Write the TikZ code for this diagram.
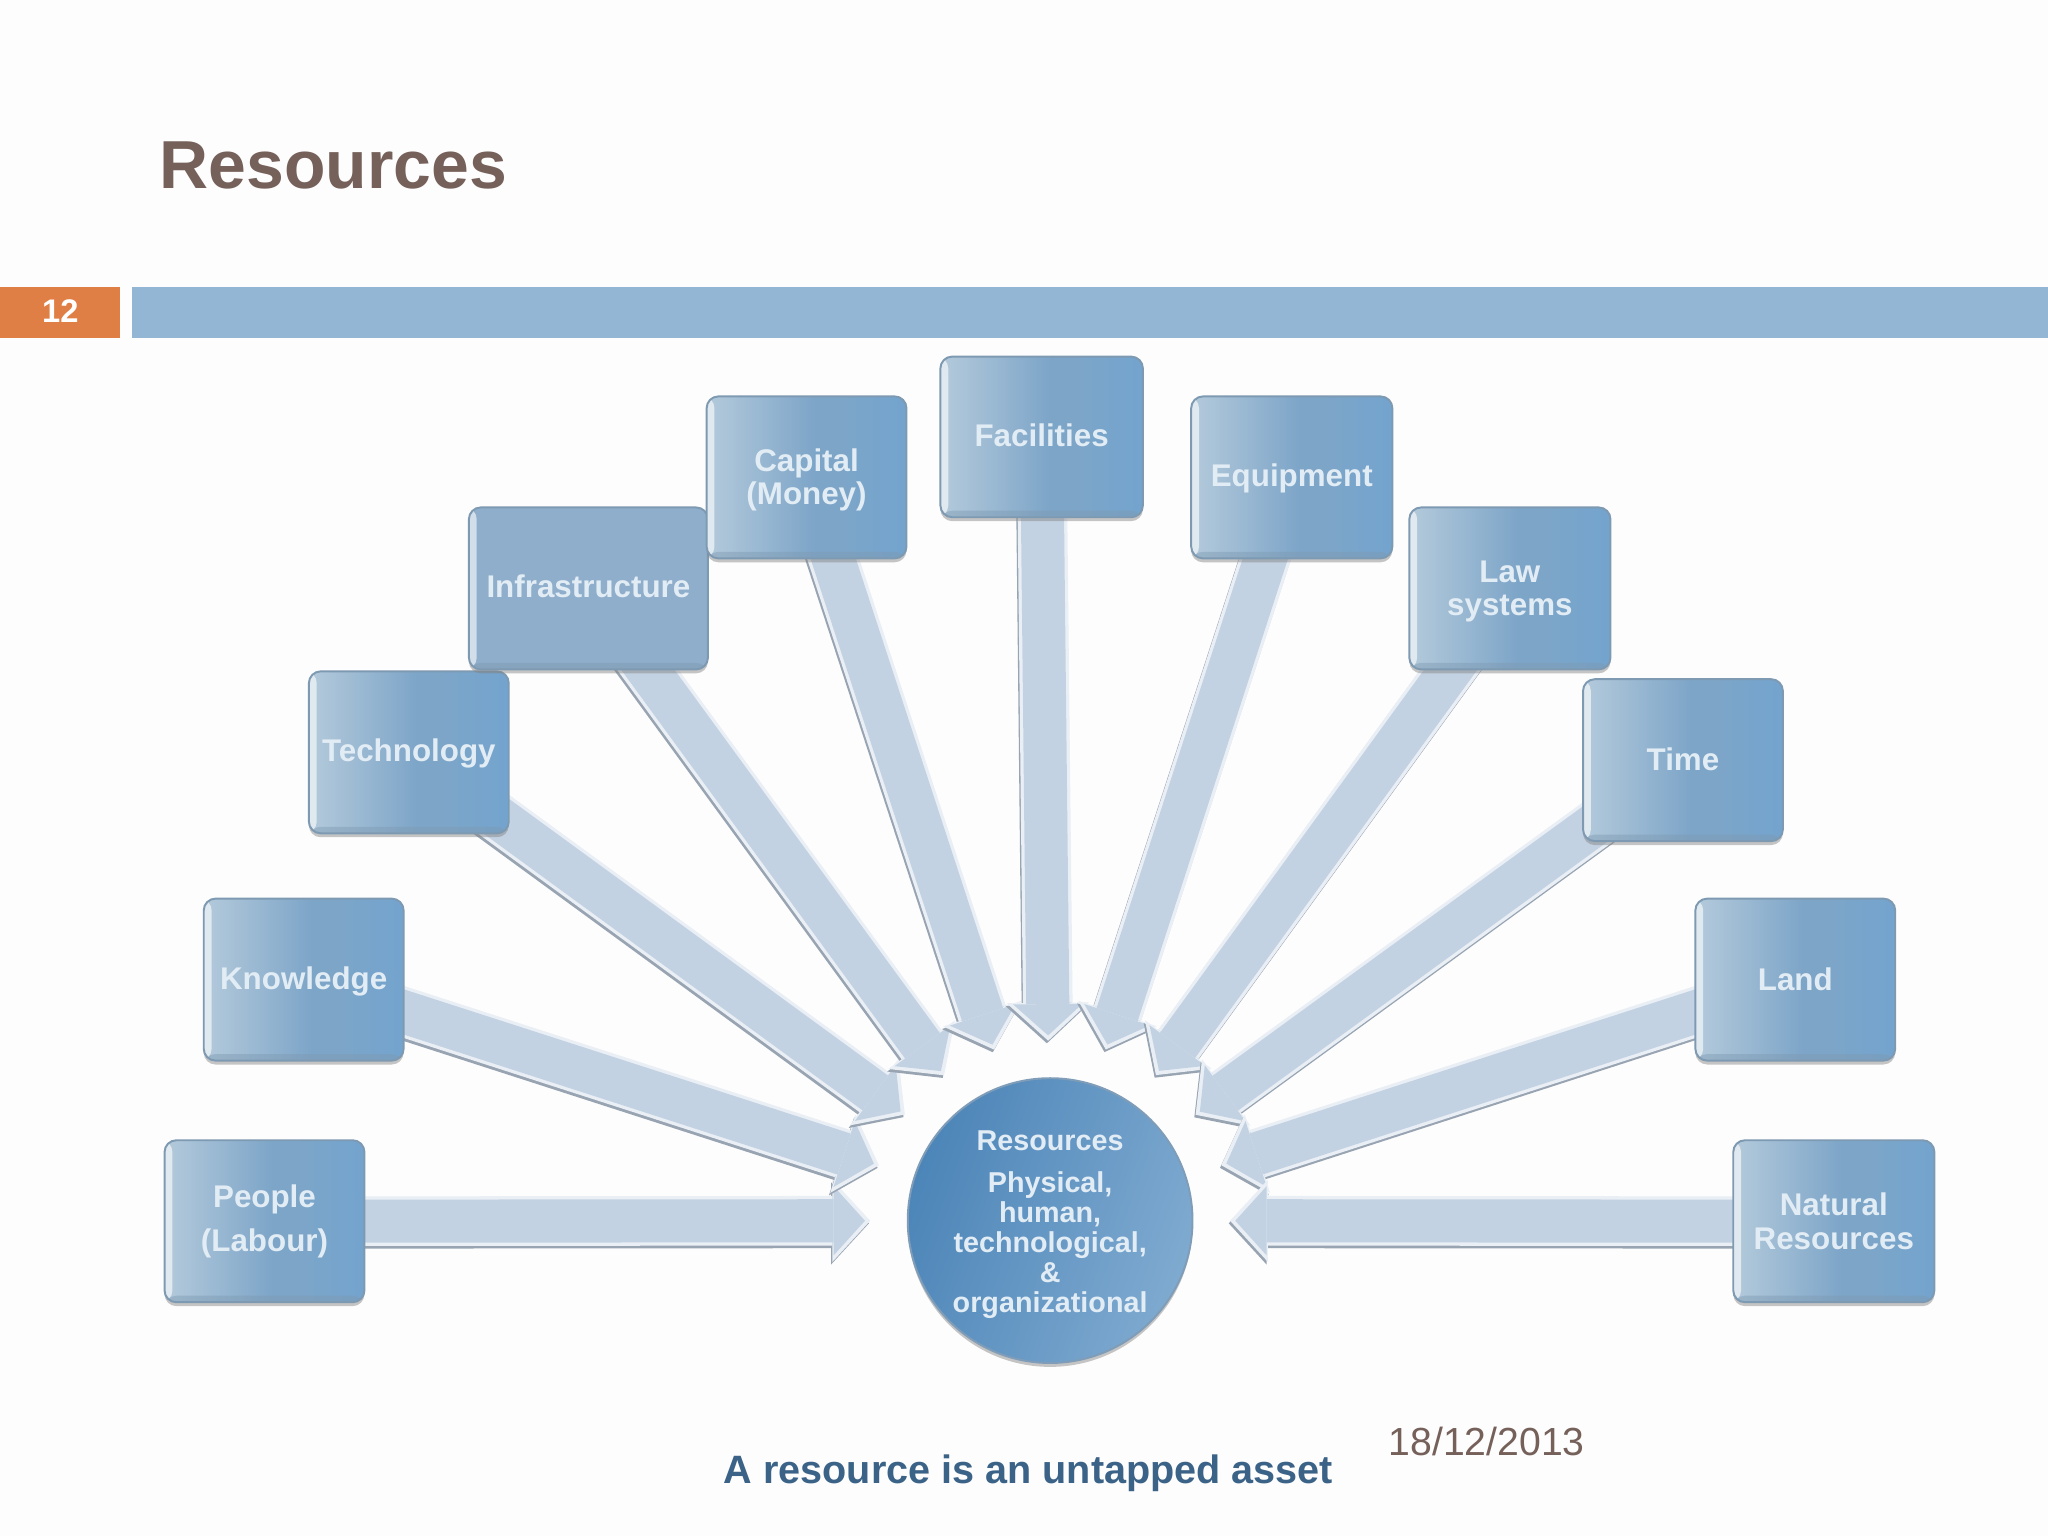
\documentclass[tikz,border=0pt]{standalone}
\usepackage{fontspec}
\setmainfont{Liberation Sans}
\usetikzlibrary{arrows.meta}
\usetikzlibrary{backgrounds}
\usetikzlibrary{shadows}
\definecolor{mpage}{HTML}{FDFDFD}
\definecolor{mbrown}{HTML}{75605A}
\definecolor{morange}{HTML}{E07F45}
\definecolor{mbar}{HTML}{94B6D5}
\definecolor{mnavy}{HTML}{3B6287}
\definecolor{mfeed}{HTML}{C3D2E2}
\definecolor{mrim}{HTML}{E9EFF5}
\definecolor{mshade}{HTML}{98A4B2}
\definecolor{mtext}{HTML}{E2ECF4}
\definecolor{mflat}{HTML}{8FAECB}
\definecolor{mboxa}{HTML}{B4CADB}
\definecolor{mboxb}{HTML}{7DA5C8}
\definecolor{mboxc}{HTML}{73A4CE}
\definecolor{mhuba}{HTML}{4C85B8}
\definecolor{mhubb}{HTML}{7FAAD0}
\pgfdeclarehorizontalshading{boxfade}{100bp}{color(0bp)=(mboxa); color(25bp)=(mboxa); color(52bp)=(mboxb); color(58bp)=(mboxb); color(75bp)=(mboxc); color(100bp)=(mboxc)}
\tikzset{resbox/.style = {draw = mboxb!70!gray, line width = 1.5pt, rounded corners = 9pt,
                          minimum width = 153pt, minimum height = 124pt, inner sep = 0,
                          shading = boxfade, text = mtext, align = center,
                          font = \fontsize{24}{25.5}\selectfont\bfseries,
                          drop shadow = {shadow xshift = 0pt, shadow yshift = -3pt, opacity = 0.45, fill = gray},
                          path picture = {\fill [white, opacity = 0.6] (path picture bounding box.south west) rectangle ([xshift = 6pt] path picture bounding box.north west);
                                          \fill [mboxb!70!gray, opacity = 0.45] (path picture bounding box.south west) rectangle ([yshift = 5pt] path picture bounding box.south east);}}}
\tikzset{flatbox/.style = {shading = axis, left color = mflat, right color = mflat}}
\tikzset{hub/.style = {circle, draw = mhubb!70!gray, line width = 1.5pt, minimum size = 218pt, inner sep = 0,
                       shading = axis, left color = mhuba, right color = mhubb, shading angle = 70,
                       text = mtext, align = center, font = \fontsize{22}{23}\selectfont\bfseries,
                       drop shadow = {shadow xshift = 0pt, shadow yshift = -3pt, opacity = 0.45, fill = gray}}}
\tikzset{feed/.style = {draw = mfeed, line width = 33pt, shorten > = 32pt,
                        -{Triangle[length = 24pt, width = 53pt, line width = 0pt]},
                        preaction = {draw = mshade, line width = 38pt, shorten > = 28pt,
                                     -{Triangle[length = 29pt, width = 63pt, line width = 0pt]},
                                     transform canvas = {xshift = -1pt, yshift = -2pt}},
                        preaction = {draw = mrim, line width = 38pt, shorten > = 28pt,
                                     -{Triangle[length = 29pt, width = 63pt, line width = 0pt]}}}}
\tikzset{plain/.style = {inner sep = 0, anchor = base west}}
\begin{document}
\begin{tikzpicture}[x = 1pt, y = -1pt]
    \useasboundingbox (0, 0) rectangle (1568, 1176);

    \node [plain, text = mbrown, font = \fontsize{52}{60}\selectfont\bfseries] (title) at (122, 144) {Resources};
    \node [fill = morange, minimum width = 92pt, minimum height = 39pt, inner sep = 0, anchor = north west,
           text = white, font = \fontsize{25}{30}\selectfont\bfseries] (pagenum) at (0, 219.5) {\raisebox{1.5pt}{12}};
    \node [fill = mbar, minimum width = 1467pt, minimum height = 39pt, inner sep = 0, anchor = north west] (bar) at (101, 219.5) {};

    \node [hub] (res) at (804, 934.5) {\rule{0pt}{21pt}Resources\\[9pt]Physical,\\human,\\technological,\\\&\\organizational};

    \node [resbox] (people) at (202.5, 935) {People\\[8.5pt](Labour)};
    \node [resbox, text depth = 2pt] (knowledge) at (232.5, 750) {Knowledge};
    \node [resbox, text depth = 3pt] (technology) at (313, 576) {Technology};
    \node [resbox, flatbox, minimum width = 183pt, text depth = 4pt] (infra) at (450.5, 450.5) {Infrastructure};
    \node [resbox] (capital) at (617.5, 365.5) {\rule{0pt}{21pt}Capital\\(Money)};
    \node [resbox, minimum width = 155pt, minimum height = 123pt, text depth = 2pt] (facilities) at (797.5, 334.5) {Facilities};
    \node [resbox, minimum width = 154pt, text depth = 3pt] (equipment) at (989, 365.5) {Equipment};
    \node [resbox, minimum width = 154pt] (law) at (1156, 450.5) {\rule{0pt}{21pt}Law\\systems};
    \node [resbox, text depth = 2pt] (time) at (1288.5, 582) {Time};
    \node [resbox] (land) at (1374.5, 750) {Land};
    \node [resbox, minimum width = 154pt] (natural) at (1404, 935) {Natural\\Resources};

    \node [plain, text = mnavy, font = \fontsize{30.3}{36}\selectfont\bfseries] (slogan) at (554, 1135.5) {A resource is an untapped asset};
    \node [plain, text = mbrown, font = \fontsize{30}{36}\selectfont] (date) at (1063, 1114) {18/12/2013};

    \begin{scope}[on background layer]
      \fill [mpage] (0, 0) rectangle (1568, 1176);
      \draw [feed] (people.center) -- (res);
      \draw [feed] (knowledge.center) -- (res);
      \draw [feed] (technology.center) -- (res);
      \draw [feed] (infra.center) -- (res);
      \draw [feed] (capital.center) -- (res);
      \draw [feed] (facilities.center) -- (res);
      \draw [feed] (equipment.center) -- (res);
      \draw [feed] (law.center) -- (res);
      \draw [feed] (time.center) -- (res);
      \draw [feed] (land.center) -- (res);
      \draw [feed] (natural.center) -- (res);
    \end{scope}
  \end{tikzpicture}
\end{document}
